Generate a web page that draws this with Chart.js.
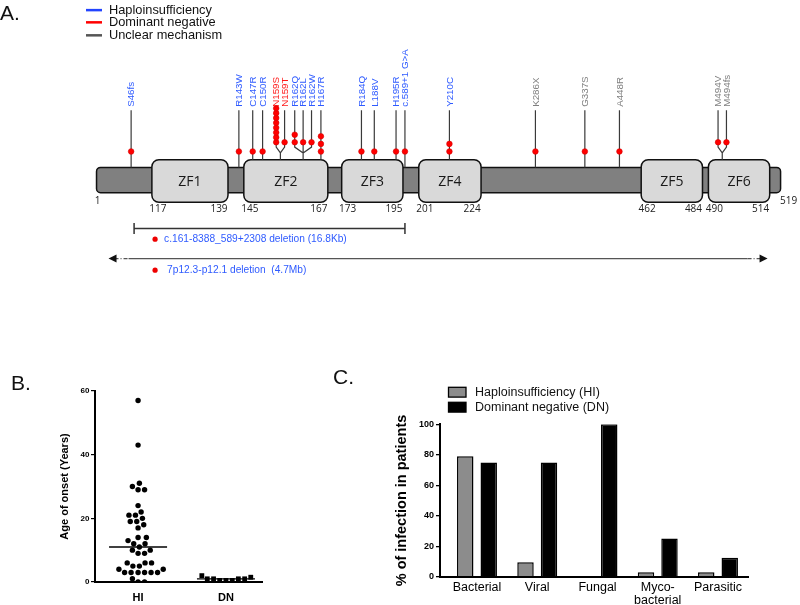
<!DOCTYPE html>
<html>
<head>
<meta charset="utf-8">
<title>GATA2 mutations, age of onset and infections</title>
<script src="https://cdn.jsdelivr.net/npm/chart.js@4.4.1/dist/chart.umd.min.js"></script>
<style>
  body { margin: 0; background: #fff; }
  #page { position: relative; width: 800px; height: 605px; overflow: hidden; }
  canvas { position: absolute; }
  .tag { position: absolute; font: 21px "Liberation Sans", Arial, sans-serif; line-height: 1; color: #111; }
</style>
</head>
<body>
<div id="page">
  <canvas id="geneMap" width="800" height="300" style="left:0px;top:0px"></canvas>
  <canvas id="onset" width="280" height="225" style="left:0px;top:380px"></canvas>
  <canvas id="infection" width="500" height="225" style="left:300px;top:380px"></canvas>
  <div class="tag" style="left:0px;top:2px">A.</div>
  <div class="tag" style="left:11px;top:372px">B.</div>
  <div class="tag" style="left:333px;top:366px">C.</div>
</div>
<script>
// ---------- panel A data ----------
const mechanismLabels = ["Haploinsufficiency", "Dominant negative", "Unclear mechanism"]
const mutationNames = ["S46fs", "R143W", "C147R", "C150R", "N159S", "N159T", "R162Q", "R162L", "R162W", "H167R",
    "R184Q", "L188V", "H195R", "c.589+1 G>A", "Y210C", "K286X", "G337S", "A448R", "M494V", "M494fs"]
const mutationResidue = [46, 143, 147, 150, 159, 159, 162, 162, 162, 167, 184, 188, 195, 197, 210, 286, 337, 448, 494, 494]
const mutationPatients = [1, 1, 1, 1, 8, 1, 2, 1, 1, 3, 1, 1, 1, 1, 2, 1, 1, 1, 1, 1]
// 0 = haploinsufficiency, 1 = dominant negative, 2 = unclear
const mutationMechanism = [0, 0, 0, 0, 1, 1, 0, 0, 0, 0, 0, 0, 0, 0, 0, 2, 2, 2, 2, 2]
const domainNames = ["ZF1", "ZF2", "ZF3", "ZF4", "ZF5", "ZF6"]
const domainStart = [117, 145, 173, 201, 462, 490]
const domainEnd = [139, 167, 195, 224, 484, 514]
const proteinLength = 519
const deletionNames = ["c.161-8388_589+2308 deletion (16.8Kb)", "7p12.3-p12.1 deletion  (4.7Mb)"]
const deletionResidues = [[54, 197], null]   // null: whole gene deleted

// ---------- panel B data ----------
const onsetGroups = ["HI", "DN"]
const onsetHI = [57, 43, 31, 30, 29, 29, 24, 22, 21, 21, 20, 19, 19, 18, 17, 14, 14, 13, 12, 12, 11,
    10, 10, 9, 9, 6, 6, 6, 5, 5, 4, 4, 3, 3, 3, 3, 3, 3, 1, 0, 0]
const onsetDN = [0.5, 0.5, 0.5, 1, 1, 1, 1, 1.5, 2]

// ---------- panel C data ----------
const infectionTypes = ["Bacterial", "Viral", "Fungal", ["Myco-", "bacterial"], "Parasitic"]
const seriesNames = ["Haploinsufficiency (HI)", "Dominant negative (DN)"]
const infectionHI = [79, 9.5, 0, 3, 3]
const infectionDN = [75, 75, 100, 25, 12.5]

// ---------- layout ----------
// the protein is drawn not to scale: residue -> position along the drawn bar
const schematicKnots = [[0.5, 93], [46, 128], [54, 131], [116.5, 149], [139.5, 226], [143, 237], [144.5, 242],
    [147, 251], [150, 261], [159, 279], [162, 302], [167, 320], [167.5, 327], [172.5, 341], [184, 361], [188, 374],
    [195, 396], [195.5, 403], [197, 405], [200.5, 419], [210, 450], [224.5, 482], [286, 537], [337, 587], [448, 622],
    [461.5, 644], [484.5, 706], [489.5, 712], [494, 726], [514.5, 774], [519.5, 785]]
const geo = {
    legendX: 86, legendLen: 16, legendRows: [5.7, 18.3, 31.7],
    labelY: 105.5, stemTop: 109, forkY: 153, branchY: 147, forkSpread: 8.5,
    singleDotY: 151.5, forkDotY: 142, dotStep: 7.8, crowdedDotStep: 5,
    boxTop: 160, boxBottom: 204, barTop: 168, barBottom: 194,
    numberY: 211.5, bracketY: 231, delTextY: [242, 274], arrowY: 262
}
const mechColors = ["#2f5bff", "#ff1a1a", "#808080"]
const legendLineColors = ["#2244ff", "#ff0000", "#555555"]
const SANS = '"Liberation Sans", Arial, sans-serif'
const OPEN = '"Open Sans", "Liberation Sans", sans-serif'

Chart.defaults.font.family = SANS
Chart.defaults.color = "#000"
Chart.defaults.animation = false
Chart.defaults.responsive = false
Chart.defaults.events = []
Chart.defaults.plugins.legend.display = false
Chart.defaults.plugins.tooltip.enabled = false

function schem(r) {
    const k = schematicKnots
    if (r <= k[0][0]) return k[0][1]
    for (let i = 1; i < k.length; i++) {
        if (r <= k[i][0]) {
            const [r0, p0] = k[i - 1], [r1, p1] = k[i]
            return p0 + (r - r0) / (r1 - r0) * (p1 - p0)
        }
    }
    return k[k.length - 1][1]
}

function inDomain(r) {
    return domainStart.some((s, i) => r >= s && r <= domainEnd[i])
}

function roundRect(ctx, x, y, w, h, r) {
    ctx.beginPath()
    ctx.moveTo(x + r, y)
    ctx.arcTo(x + w, y, x + w, y + h, r)
    ctx.arcTo(x + w, y + h, x, y + h, r)
    ctx.arcTo(x, y + h, x, y, r)
    ctx.arcTo(x, y, x + w, y, r)
    ctx.closePath()
}

// group mutations hitting the same residue, they share a forked stem
const sites = []
mutationResidue.forEach((res, i) => {
    let s = sites.find(t => t.res == res)
    if (!s) { s = { res, members: [] }; sites.push(s) }
    s.members.push(i)
})
const branchX = [], isFork = []
sites.forEach(s => {
    const n = s.members.length
    s.members.forEach((m, k) => {
        branchX[m] = schem(s.res) + (k - (n - 1) / 2) * geo.forkSpread
        isFork[m] = n > 1
    })
})

const dotPoints = []
mutationPatients.forEach((n, m) => {
    const base = isFork[m] ? geo.forkDotY : geo.singleDotY
    const step = n > 3 ? geo.crowdedDotStep : geo.dotStep
    for (let k = 0; k < n; k++) dotPoints.push({ x: branchX[m], y: base - k * step })
})

const geneMapPlugin = {
    id: "geneMap",
    beforeDatasetsDraw(chart) {
        const { ctx, scales: { x, y } } = chart
        const X = u => x.getPixelForValue(u)
        const Y = v => y.getPixelForValue(v)
        ctx.save()

        // mechanism legend
        ctx.font = "12.8px " + SANS
        ctx.textBaseline = "middle"
        mechanismLabels.forEach((lab, i) => {
            const yy = Y(geo.legendRows[i])
            ctx.strokeStyle = legendLineColors[i]
            ctx.lineWidth = 2.5
            ctx.beginPath(); ctx.moveTo(geo.legendX, yy); ctx.lineTo(geo.legendX + geo.legendLen, yy); ctx.stroke()
            ctx.fillStyle = "#111"
            ctx.fillText(lab, geo.legendX + geo.legendLen + 7, yy + 0.5)
        })

        // protein backbone
        const p0 = X(schem(0.5)), p1 = X(schem(proteinLength + 0.5))
        roundRect(ctx, p0, Y(geo.barTop), p1 - p0, Y(geo.barBottom) - Y(geo.barTop), 4)
        ctx.fillStyle = "#808080"; ctx.fill()
        ctx.strokeStyle = "#111"; ctx.lineWidth = 1.5; ctx.stroke()

        // zinc finger domains
        ctx.font = "10px " + OPEN
        ctx.textAlign = "center"
        ctx.fillStyle = "#222"
        ctx.fillText("1", p0 + 1, Y(203))
        ctx.fillText(String(proteinLength), p1 + 8, Y(202.7))
        domainNames.forEach((name, i) => {
            const l = X(schem(domainStart[i] - 0.5)), r = X(schem(domainEnd[i] + 0.5))
            roundRect(ctx, l, Y(geo.boxTop), r - l, Y(geo.boxBottom) - Y(geo.boxTop), 7)
            ctx.fillStyle = "#d9d9d9"; ctx.fill()
            ctx.strokeStyle = "#111"; ctx.lineWidth = 1.5; ctx.stroke()
            ctx.fillStyle = "#1a1a1a"
            ctx.font = "14px " + OPEN
            ctx.fillText(name, (l + r) / 2, Y((geo.boxTop + geo.boxBottom) / 2) + 0.5)
            ctx.fillStyle = "#222"
            ctx.font = "10px " + OPEN
            ctx.fillText(String(domainStart[i]), l + 6, Y(geo.numberY))
            ctx.fillText(String(domainEnd[i]), r - 9, Y(geo.numberY))
        })

        // stems, forks and labels
        ctx.strokeStyle = "#3a3a3a"
        ctx.lineWidth = 1.2
        sites.forEach(s => {
            const cx = X(schem(s.res))
            const surface = Y(inDomain(s.res) ? geo.boxTop : geo.barTop)
            ctx.beginPath()
            if (s.members.length > 1) {
                ctx.moveTo(cx, surface); ctx.lineTo(cx, Y(geo.forkY))
                s.members.forEach(m => {
                    ctx.moveTo(cx, Y(geo.forkY))
                    ctx.lineTo(X(branchX[m]), Y(geo.branchY))
                    ctx.lineTo(X(branchX[m]), Y(geo.stemTop))
                })
            } else {
                ctx.moveTo(cx, surface); ctx.lineTo(cx, Y(geo.stemTop))
            }
            ctx.stroke()
        })
        ctx.font = "9.8px " + SANS
        ctx.textAlign = "left"
        mutationNames.forEach((name, m) => {
            ctx.save()
            ctx.translate(X(branchX[m]), Y(geo.labelY))
            ctx.rotate(-Math.PI / 2)
            ctx.fillStyle = mechColors[mutationMechanism[m]]
            ctx.fillText(name, 0, 0.5)
            ctx.restore()
        })

        // large deletions
        const d0 = X(schem(deletionResidues[0][0])), d1 = X(schem(deletionResidues[0][1]))
        const by = Y(geo.bracketY)
        ctx.strokeStyle = "#333"; ctx.lineWidth = 1.5
        ctx.beginPath()
        ctx.moveTo(d0, by); ctx.lineTo(d1, by)
        ctx.moveTo(d0, by - 5.5); ctx.lineTo(d0, by + 5.5)
        ctx.moveTo(d1, by - 5.5); ctx.lineTo(d1, by + 5.5)
        ctx.stroke()

        const ay = Y(geo.arrowY), a0 = p0 + 12, a1 = p1 - 13
        ctx.strokeStyle = "#555"; ctx.lineWidth = 1.3
        ctx.beginPath(); ctx.moveTo(a0 + 20, ay); ctx.lineTo(a1 - 20, ay); ctx.stroke()
        ctx.setLineDash([4, 2, 1, 2])
        ctx.beginPath()
        ctx.moveTo(a0 + 6, ay); ctx.lineTo(a0 + 20, ay)
        ctx.moveTo(a1 - 20, ay); ctx.lineTo(a1 - 6, ay)
        ctx.stroke()
        ctx.setLineDash([])
        ctx.fillStyle = "#111"
        ctx.beginPath()
        ctx.moveTo(a0, ay); ctx.lineTo(a0 + 8, ay - 4); ctx.lineTo(a0 + 8, ay + 4); ctx.closePath()
        ctx.moveTo(a1, ay); ctx.lineTo(a1 - 8, ay - 4); ctx.lineTo(a1 - 8, ay + 4); ctx.closePath()
        ctx.fill()

        ctx.font = "10.2px " + SANS
        ctx.textBaseline = "middle"
        deletionNames.forEach((name, i) => {
            const ty = Y(geo.delTextY[i])
            ctx.fillStyle = "#ee0000"
            ctx.beginPath(); ctx.arc(d0 + 21, ty, 2.6, 0, Math.PI * 2); ctx.fill()
            ctx.fillStyle = mechColors[0]
            ctx.fillText(name, d0 + (i ? 33 : 30), ty)
        })
        ctx.restore()
    }
}

new Chart(document.getElementById("geneMap"), {
    type: "scatter",
    data: {
        datasets: [{
            data: dotPoints,
            pointRadius: 2.8,
            backgroundColor: "#ff0000",
            borderColor: "#d40000",
            borderWidth: 0.6
        }]
    },
    options: {
        layout: { padding: 0 },
        scales: {
            x: { type: "linear", display: false, min: 0, max: 800 },
            y: { type: "linear", display: false, min: 0, max: 300, reverse: true }
        }
    },
    plugins: [geneMapPlugin]
})

// ---------- panel B ----------
const onsetPxX = 87.9, onsetPxY = 191 / 60

// simple beeswarm: place points bottom-up as close to the centre as possible
function swarm(values, center, gap) {
    const placed = []
    const out = []
    const order = values.map((v, i) => i).sort((a, b) => values[a] - values[b])
    for (const i of order) {
        const py = values[i] * onsetPxY
        const cands = [0]
        for (const p of placed) {
            const dy = py - p.y
            if (Math.abs(dy) < gap) {
                const dx = Math.sqrt(gap * gap - dy * dy)
                cands.push(p.x + dx, p.x - dx)
            }
        }
        cands.sort((a, b) => Math.abs(a) - Math.abs(b))
        const px = cands.find(c => placed.every(p => Math.hypot(c - p.x, py - p.y) >= gap - 1e-6))
        placed.push({ x: px, y: py })
        out[i] = { x: center + px / onsetPxX, y: values[i] }
    }
    return out
}

function median(arr) {
    const s = [...arr].sort((a, b) => a - b)
    const h = Math.floor(s.length / 2)
    return s.length % 2 ? s[h] : (s[h - 1] + s[h]) / 2
}

const medianLine = (center, values) => [{ x: center - 0.33, y: median(values) }, { x: center + 0.33, y: median(values) }]

new Chart(document.getElementById("onset"), {
    type: "scatter",
    data: {
        datasets: [
            { data: swarm(onsetHI, 0, 6.5), pointStyle: "circle", pointRadius: 2.7, backgroundColor: "#000", borderWidth: 0 },
            { data: swarm(onsetDN, 1, 6.3), pointStyle: "rect", pointRadius: 3.4, backgroundColor: "#000", borderWidth: 0 },
            { data: medianLine(0, onsetHI), showLine: true, pointRadius: 0, borderColor: "#000", borderWidth: 1.3 },
            { data: medianLine(1, onsetDN), showLine: true, pointRadius: 0, borderColor: "#000", borderWidth: 1.3 }
        ]
    },
    options: {
        layout: { padding: { left: 0, top: 11, right: 18, bottom: 0 } },
        scales: {
            x: {
                type: "linear", min: -0.49, max: 1.41,
                afterBuildTicks: s => { s.ticks = onsetGroups.map((g, i) => ({ value: i })) },
                afterFit: s => { s.height = 23 },
                ticks: { callback: (v, i) => onsetGroups[i], font: { size: 11, weight: "bold" }, padding: 9, autoSkip: false, maxRotation: 0 },
                grid: { drawOnChartArea: false, drawTicks: false },
                border: { color: "#000", width: 2 }
            },
            y: {
                min: 0, max: 60,
                afterFit: s => { s.width = 95 },
                ticks: { stepSize: 20, font: { size: 8, weight: "bold" }, padding: 1.5 },
                grid: { drawOnChartArea: false, drawTicks: true, tickLength: 4, color: "#000", lineWidth: 1.2 },
                border: { color: "#000", width: 2 },
                title: { display: true, text: "Age of onset (Years)", font: { size: 11, weight: "bold" }, padding: { top: 58.4, bottom: 0 } }
            }
        }
    }
})

// ---------- panel C ----------
const infectionLegend = {
    id: "infectionLegend",
    afterDraw(chart) {
        const ctx = chart.ctx
        ctx.save()
        ctx.font = "12.5px " + SANS
        ctx.textBaseline = "middle"
        chart.data.datasets.forEach((ds, i) => {
            const top = 7.3 + i * 15
            ctx.fillStyle = ds.backgroundColor
            ctx.fillRect(148.5, top, 17.5, 9.8)
            ctx.strokeStyle = "#000"; ctx.lineWidth = 1.3
            ctx.strokeRect(148.5, top, 17.5, 9.8)
            ctx.fillStyle = "#111"
            ctx.fillText(ds.label, 175, top + 5.2)
        })
        ctx.restore()
    }
}

new Chart(document.getElementById("infection"), {
    type: "bar",
    data: {
        datasets: [
            {
                label: seriesNames[0],
                data: infectionHI.map((v, i) => ({ x: i, y: v })),
                backgroundColor: "#8c8c8c", borderColor: "#000", borderWidth: 1.5,
                categoryPercentage: 0.78, barPercentage: 0.7
            },
            {
                label: seriesNames[1],
                data: infectionDN.map((v, i) => ({ x: i, y: v })),
                backgroundColor: "#000", borderColor: "#000", borderWidth: 1.5,
                categoryPercentage: 0.78, barPercentage: 0.7
            }
        ]
    },
    options: {
        layout: { padding: { left: 0, top: 44.3, right: 52, bottom: 0 } },
        scales: {
            x: {
                type: "linear", min: -0.614, max: 4.498, offset: false,
                afterBuildTicks: s => { s.ticks = infectionTypes.map((t, i) => ({ value: i })) },
                afterFit: s => { s.height = 28.3 },
                ticks: { callback: (v, i) => infectionTypes[i], font: { size: 12.5, lineHeight: 1 }, padding: 5, autoSkip: false, maxRotation: 0 },
                grid: { drawOnChartArea: false, drawTicks: false, offset: false },
                border: { color: "#000", width: 2 }
            },
            y: {
                min: 0, max: 100,
                afterFit: s => { s.width = 140 },
                ticks: { stepSize: 20, font: { size: 9, weight: "bold" }, padding: 2 },
                grid: { drawOnChartArea: false, drawTicks: true, tickLength: 4, color: "#000", lineWidth: 1.3 },
                border: { color: "#000", width: 2 },
                title: { display: true, text: "% of infection in patients", font: { size: 14.5, weight: "bold" }, padding: { top: 93.3, bottom: 0 } }
            }
        }
    },
    plugins: [infectionLegend]
})
</script>
</body>
</html>
